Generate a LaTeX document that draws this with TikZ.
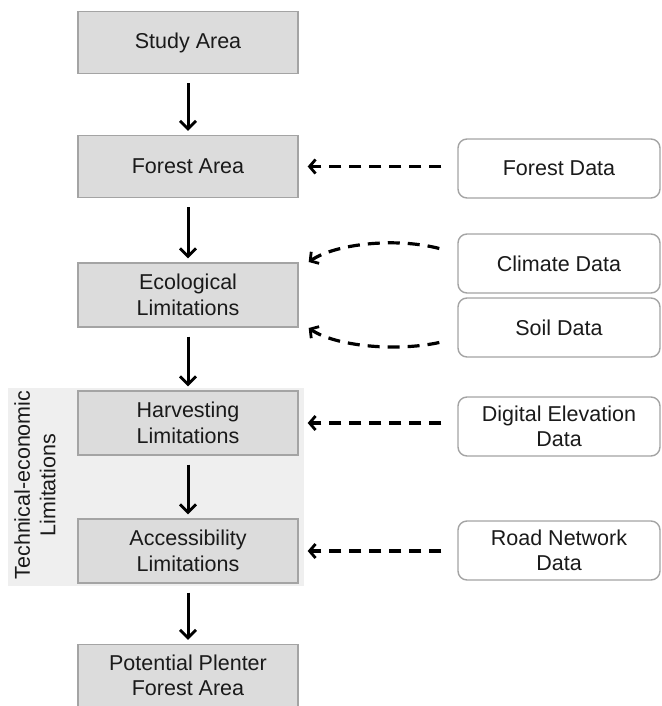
\documentclass[tikz,border=0pt]{standalone}
\usepackage{fontspec}
\setmainfont{Liberation Sans}
\usetikzlibrary{arrows.meta}
\definecolor{boxfill}{HTML}{DCDCDC}
\definecolor{boxline}{HTML}{A4A4A4}
\definecolor{panel}{HTML}{EFEFEF}
\definecolor{txt}{HTML}{1A1A1A}
\begin{document}
\begin{tikzpicture}[x=1pt,y=-1pt,
  every node/.style={font=\fontsize{21.5}{25.5}\selectfont, text=txt, align=center, inner sep=0pt},
  stagebox/.style={draw=boxline, line width=1.4pt, fill=boxfill, minimum width=220, minimum height=62},
  databox/.style={draw=boxline, line width=1.4pt, fill=white, rounded corners=9pt, minimum width=202, minimum height=59},
  flow/.style={line width=3pt, -{Straight Barb[length=8pt,width=16pt,line width=2.8pt]}},
  feed/.style={line width=3.2pt, dash pattern=on 12pt off 8pt, -{Straight Barb[length=6pt,width=14pt,line width=2.8pt]}}
]
\useasboundingbox (0,0) rectangle (661,706);
\fill[panel] (8,388) rectangle (304,586);
\node[rotate=90] (tel) at (35,485) {Technical-economic\\Limitations};

\node[stagebox] (study) at (188,42.5) {Study Area};
\node[stagebox] (forest) at (188,166.5) {Forest Area};
\node[stagebox, minimum height=64] (eco) at (188,295) {Ecological\\Limitations};
\node[stagebox, minimum height=64] (harv) at (188,423) {Harvesting\\Limitations};
\node[stagebox, minimum height=64] (acc) at (188,551) {Accessibility\\Limitations};
\node[stagebox, minimum height=62] (pot) at (188,675.5) {Potential Plenter\\Forest Area};

\node[databox] (fdata) at (559,168.5) {Forest Data};
\node[databox] (cdata) at (559,263.5) {Climate Data};
\node[databox] (sdata) at (559,327.5) {Soil Data};
\node[databox] (ddata) at (559,426.5) {Digital Elevation\\Data};
\node[databox] (rdata) at (559,550.5) {Road Network\\Data};

\draw[flow] ([yshift=-9]study.south) -- ([yshift=4]forest.north);
\draw[flow] ([yshift=-9]forest.south) -- ([yshift=4]eco.north);
\draw[flow] ([yshift=-9]eco.south) -- ([yshift=4]harv.north);
\draw[flow] ([yshift=-9]harv.south) -- ([yshift=4]acc.north);
\draw[flow] ([yshift=-9]acc.south) -- ([yshift=4]pot.north);

\draw[feed] ([xshift=-16]fdata.west |- forest.east) -- ([xshift=9]forest.east);
\draw[feed] ([xshift=-18,yshift=15]cdata.west) .. controls (395,237) and (335,244) .. ([xshift=10,yshift=33]eco.east);
\draw[feed] ([xshift=-18,yshift=-15]sdata.west) .. controls (395,352) and (335,346) .. ([xshift=10,yshift=-33]eco.east);
\draw[feed] ([xshift=-16]ddata.west |- harv.east) -- ([xshift=9]harv.east);
\draw[feed] ([xshift=-16]rdata.west |- acc.east) -- ([xshift=9]acc.east);
\end{tikzpicture}
\end{document}
